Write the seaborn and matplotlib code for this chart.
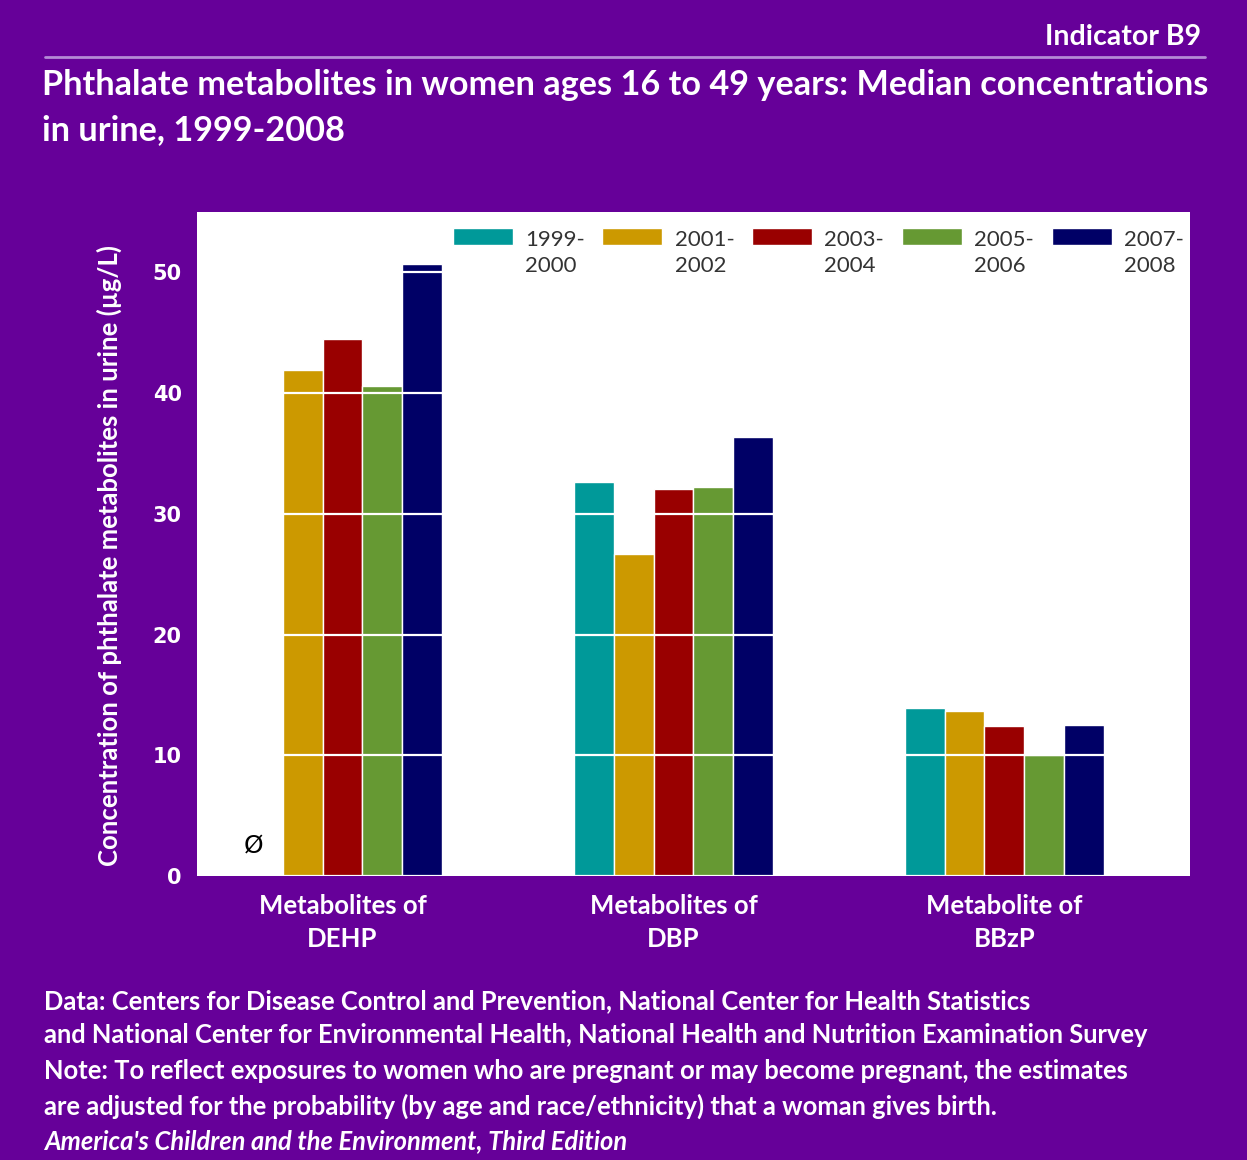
import numpy as np
import pandas as pd
import matplotlib
matplotlib.use("Agg")
import matplotlib.pyplot as plt
import seaborn as sns
from matplotlib.patches import Rectangle
from matplotlib.legend_handler import HandlerPatch

# data
metabolites = ["Metabolites of\nDEHP", "Metabolites of\nDBP", "Metabolite of\nBBzP"]
periods = ["1999-\n2000", "2001-\n2002", "2003-\n2004", "2005-\n2006", "2007-\n2008"]
dehp = [np.nan, 41.9, 44.5, 40.6, 50.7]
dbp = [32.6, 26.7, 32.1, 32.2, 36.4]
bbzp = [13.9, 13.7, 12.4, 10.0, 12.5]

colors = ["#009999", "#cc9900", "#990000", "#669933", "#000066"]
purple = "#660099"

rows = []
for name, vals in zip(metabolites, [dehp, dbp, bbzp]):
    for p, v in zip(periods, vals):
        rows.append({"metabolite": name, "period": p, "value": v})
df = pd.DataFrame(rows)

sns.set_style("white")
plt.rcParams["font.family"] = ["Lato", "DejaVu Sans"]

fig = plt.figure(figsize=(12.47, 11.6), dpi=100)
fig.patch.set_facecolor(purple)
ax = fig.add_axes([0.158, 0.2448, 0.796, 0.5724])
ax.set_facecolor("white")

sns.barplot(data=df, x="metabolite", y="value", hue="period", order=metabolites,
            hue_order=periods, palette=colors, width=0.6, saturation=1,
            errorbar=None, ax=ax, legend=True)

ax.set_ylim(0, 55)
ax.set_xlim(-0.44, 2.56)
ax.set_yticks([0, 10, 20, 30, 40, 50])
ax.yaxis.grid(True, color="white", lw=1.6)
ax.set_axisbelow(False)
for s in ax.spines.values():
    s.set_visible(False)
ax.tick_params(axis="y", length=0, pad=11, labelcolor="white", labelsize=15)
ax.tick_params(axis="x", length=0, pad=13, labelcolor="white", labelsize=18.5)
for t in ax.get_yticklabels():
    t.set_fontweight("bold")
    t.set_family("DejaVu Sans")
for t in ax.get_xticklabels():
    t.set_fontweight("bold")
    t.set_linespacing(1.45)
ax.set_xlabel("")
ax.set_ylabel("Concentration of phthalate metabolites in urine (µg/L)",
              color="white", fontsize=18.5, fontweight="bold")
ax.yaxis.set_label_coords(-0.076, 0.482)

# missing estimate marker
ax.text(-0.27, 2.5, "Ø", ha="center", va="center", fontsize=18, color="black",
        family="DejaVu Sans")


def top_rect(legend, orig_handle, xdescent, ydescent, width, height, fontsize):
    h = 0.78 * fontsize
    return Rectangle((-xdescent, -ydescent + height - h + 0.3 * fontsize), width, h)


handles, labels = ax.get_legend_handles_labels()
leg = ax.legend(handles, labels, ncol=5, loc="upper right", frameon=False,
                fontsize=16, handlelength=2.7, handleheight=2.3,
                handletextpad=0.55, columnspacing=0.8,
                bbox_to_anchor=(1.012, 1.0), borderaxespad=0.4,
                handler_map={Rectangle: HandlerPatch(patch_func=top_rect)})
for t in leg.get_texts():
    t.set_color("#333333")
    t.set_linespacing(1.4)

# header
fig.text(0.963, 0.968, "Indicator B9", ha="right", va="center", color="white",
         fontsize=20.5, fontweight="bold")
fig.add_artist(plt.Line2D([0.036, 0.966], [0.951, 0.951], color="#b48ad6", lw=2))
fig.text(0.034, 0.927, "Phthalate metabolites in women ages 16 to 49 years: Median concentrations",
         ha="left", va="center", color="white", fontsize=24.7, fontweight="bold")
fig.text(0.034, 0.888, "in urine, 1999-2008",
         ha="left", va="center", color="white", fontsize=24.7, fontweight="bold")

notes = [
    "Data: Centers for Disease Control and Prevention, National Center for Health Statistics",
    "and National Center for Environmental Health, National Health and Nutrition Examination Survey",
    "Note: To reflect exposures to women who are pregnant or may become pregnant, the estimates",
    "are adjusted for the probability (by age and race/ethnicity) that a woman gives birth.",
]
ys = [1001, 1035, 1071, 1106]
for line, y in zip(notes, ys):
    fig.text(0.035, 1 - y / 1160, line, ha="left", va="center", color="white",
             fontsize=18.4, fontweight="bold")
fig.text(0.035, 1 - 1141 / 1160, "America's Children and the Environment, Third Edition",
         ha="left", va="center", color="white", fontsize=18.4, fontweight="bold",
         style="italic")

fig.savefig("out.png", dpi=100, facecolor=purple)
